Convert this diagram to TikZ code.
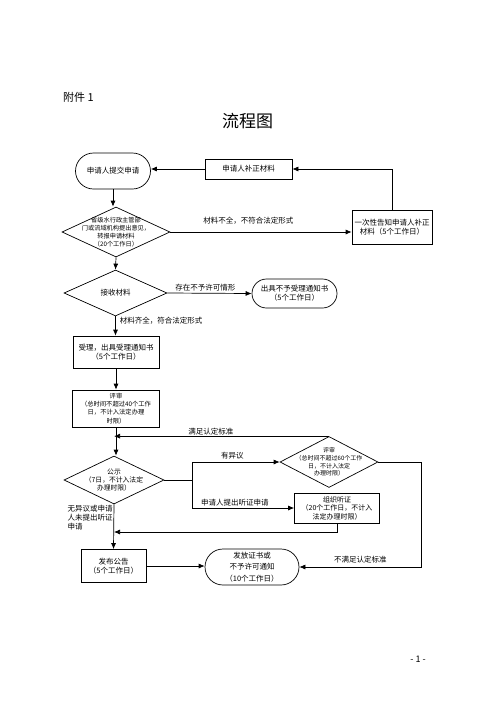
\documentclass[tikz,border=0pt]{standalone}
\usepackage{fontspec}
\setmainfont{Noto Sans CJK SC}
\usetikzlibrary{arrows.meta}
\usetikzlibrary{shapes.geometric}
\usetikzlibrary{shapes.misc}
\tikzset{
  txt/.style={font=\fontsize{7.5}{9}\selectfont, align=center},
  smalltxt/.style={font=\fontsize{6.3}{8.2}\selectfont, align=center, inner sep=0pt},
  term/.style={rounded rectangle, draw, line width=0.7pt, txt, inner sep=1pt},
  stepbox/.style={rectangle, draw, line width=0.7pt, txt, inner sep=1pt},
  dia/.style={diamond, draw, line width=0.7pt, inner sep=0pt},
  flow/.style={line width=0.7pt, -{Latex[length=6pt,width=5pt]}},
  note/.style={txt, inner sep=1pt}
}

\begin{document}
\begin{tikzpicture}[x=1pt,y=-1pt]
\useasboundingbox (0,0) rectangle (496,702);
\node[font=\fontsize{11}{13}\selectfont, anchor=west, inner sep=0pt] (annex) at (63,97) {附件 1};
\node[font=\fontsize{17}{20}\selectfont, inner sep=0pt] (title) at (247.5,121) {流程图};
\node[term, minimum width=77, minimum height=36] (submit) at (113,171) {申请人提交申请};
\node[stepbox, minimum width=87, minimum height=20] (supply) at (248.5,169) {申请人补正材料};
\node[stepbox, minimum width=80, minimum height=34] (notify) at (392,227) {一次性告知申请人补正\\材料（5个工作日）};
\node[dia, minimum width=108, minimum height=50,
  label={[smalltxt, font=\fontsize{6.2}{7.8}\selectfont]center:省级水行政主管部\\门或流域机构提出意见，\\转报申请材料\\（20个工作日）}] (chk) at (116,232) {};
\node[dia, minimum width=103, minimum height=46, label={[txt]center:接收材料}] (recv) at (115.5,293) {};
\node[term, minimum width=87, minimum height=29] (reject) at (294.5,293.5) {出具不予受理通知书\\（5个工作日）};
\node[stepbox, minimum width=86, minimum height=32] (accept) at (116,352) {受理，出具受理通知书\\（5个工作日）};
\node[stepbox, minimum width=87, minimum height=37, smalltxt] (review) at (116,408.5) {评审\\（总时间不超过40个工作\\日，不计入法定办理\\时限）};
\node[dia, minimum width=100, minimum height=48,
  label={[smalltxt, font=\fontsize{6.8}{8}\selectfont]center:公示\\（7日，不计入法定\\办理时限）}] (pub) at (114,480) {};
\node[dia, minimum width=98, minimum height=51,
  label={[smalltxt, font=\fontsize{6}{7.8}\selectfont]center:评审\\（总时间不超过60个工作\\日，不计入法定\\办理时限）}] (rev2) at (329,462) {};
\node[stepbox, minimum width=85, minimum height=30, font=\fontsize{7}{8.5}\selectfont] (hear) at (337,508) {组织听证\\（20个工作日，不计入\\法定办理时限）};
\node[stepbox, minimum width=65, minimum height=33] (post) at (113.5,566) {发布公告\\（5个工作日）};
\node[term, minimum width=96, minimum height=36, font=\fontsize{7.5}{11.5}\selectfont] (issue) at (252,567) {发放证书或\\不予许可通知\\（10个工作日）};
\node[font=\fontsize{9}{11}\selectfont, inner sep=0pt] (page) at (418,659) {- 1 -};
\coordinate (fork) at (192,480);
\coordinate (merge) at (114,532);
\draw[flow] (submit.south) -- (submit.south |- chk.north);
\draw[flow] (chk.east) -- node[note, above=6pt, pos=0.43] {材料不全，不符合法定形式} (chk.east -| notify.west);
\draw[flow] (notify.north) |- (supply.east);
\draw[flow] (supply.west) -- (supply.west -| submit.east);
\draw[flow] (chk.south) -- (recv.north);
\draw[flow] (recv.east) -- node[note, above=1pt, pos=0.45] {存在不予许可情形} (reject.west);
\draw[flow] (recv.south) -- node[note, right=3pt, pos=0.25] {材料齐全，符合法定形式} (recv.south |- accept.north);
\draw[flow] (accept.south) -- (review.south |- accept.south) -- (review.north);
\draw[flow] (review.south) -- (review.south |- pub.north);
\draw[flow] (rev2.north) -- node[note, above, pos=0.55] {满足认定标准} (rev2.north -| pub.north);
\draw[flow] (pub.east) -- (fork) |- node[note, above=2pt, pos=0.73] {有异议} (rev2.west);
\draw[flow] (fork) |- node[note, above=1pt, pos=0.71] {申请人提出听证申请} (hear.west);
\draw[flow] (hear.south) |- (merge);
\draw[flow] (pub.south) -- node[note, left, align=left, pos=0.29] {无异议或申请\\人未提出听证\\申请} (post.north);
\draw[flow] (post.east) -- (post.east -| issue.west);
\draw[flow] (rev2.east) -- ++(43,0) |- node[note, above=3pt, pos=0.75] {不满足认定标准} (issue.east);
\end{tikzpicture}
\end{document}
